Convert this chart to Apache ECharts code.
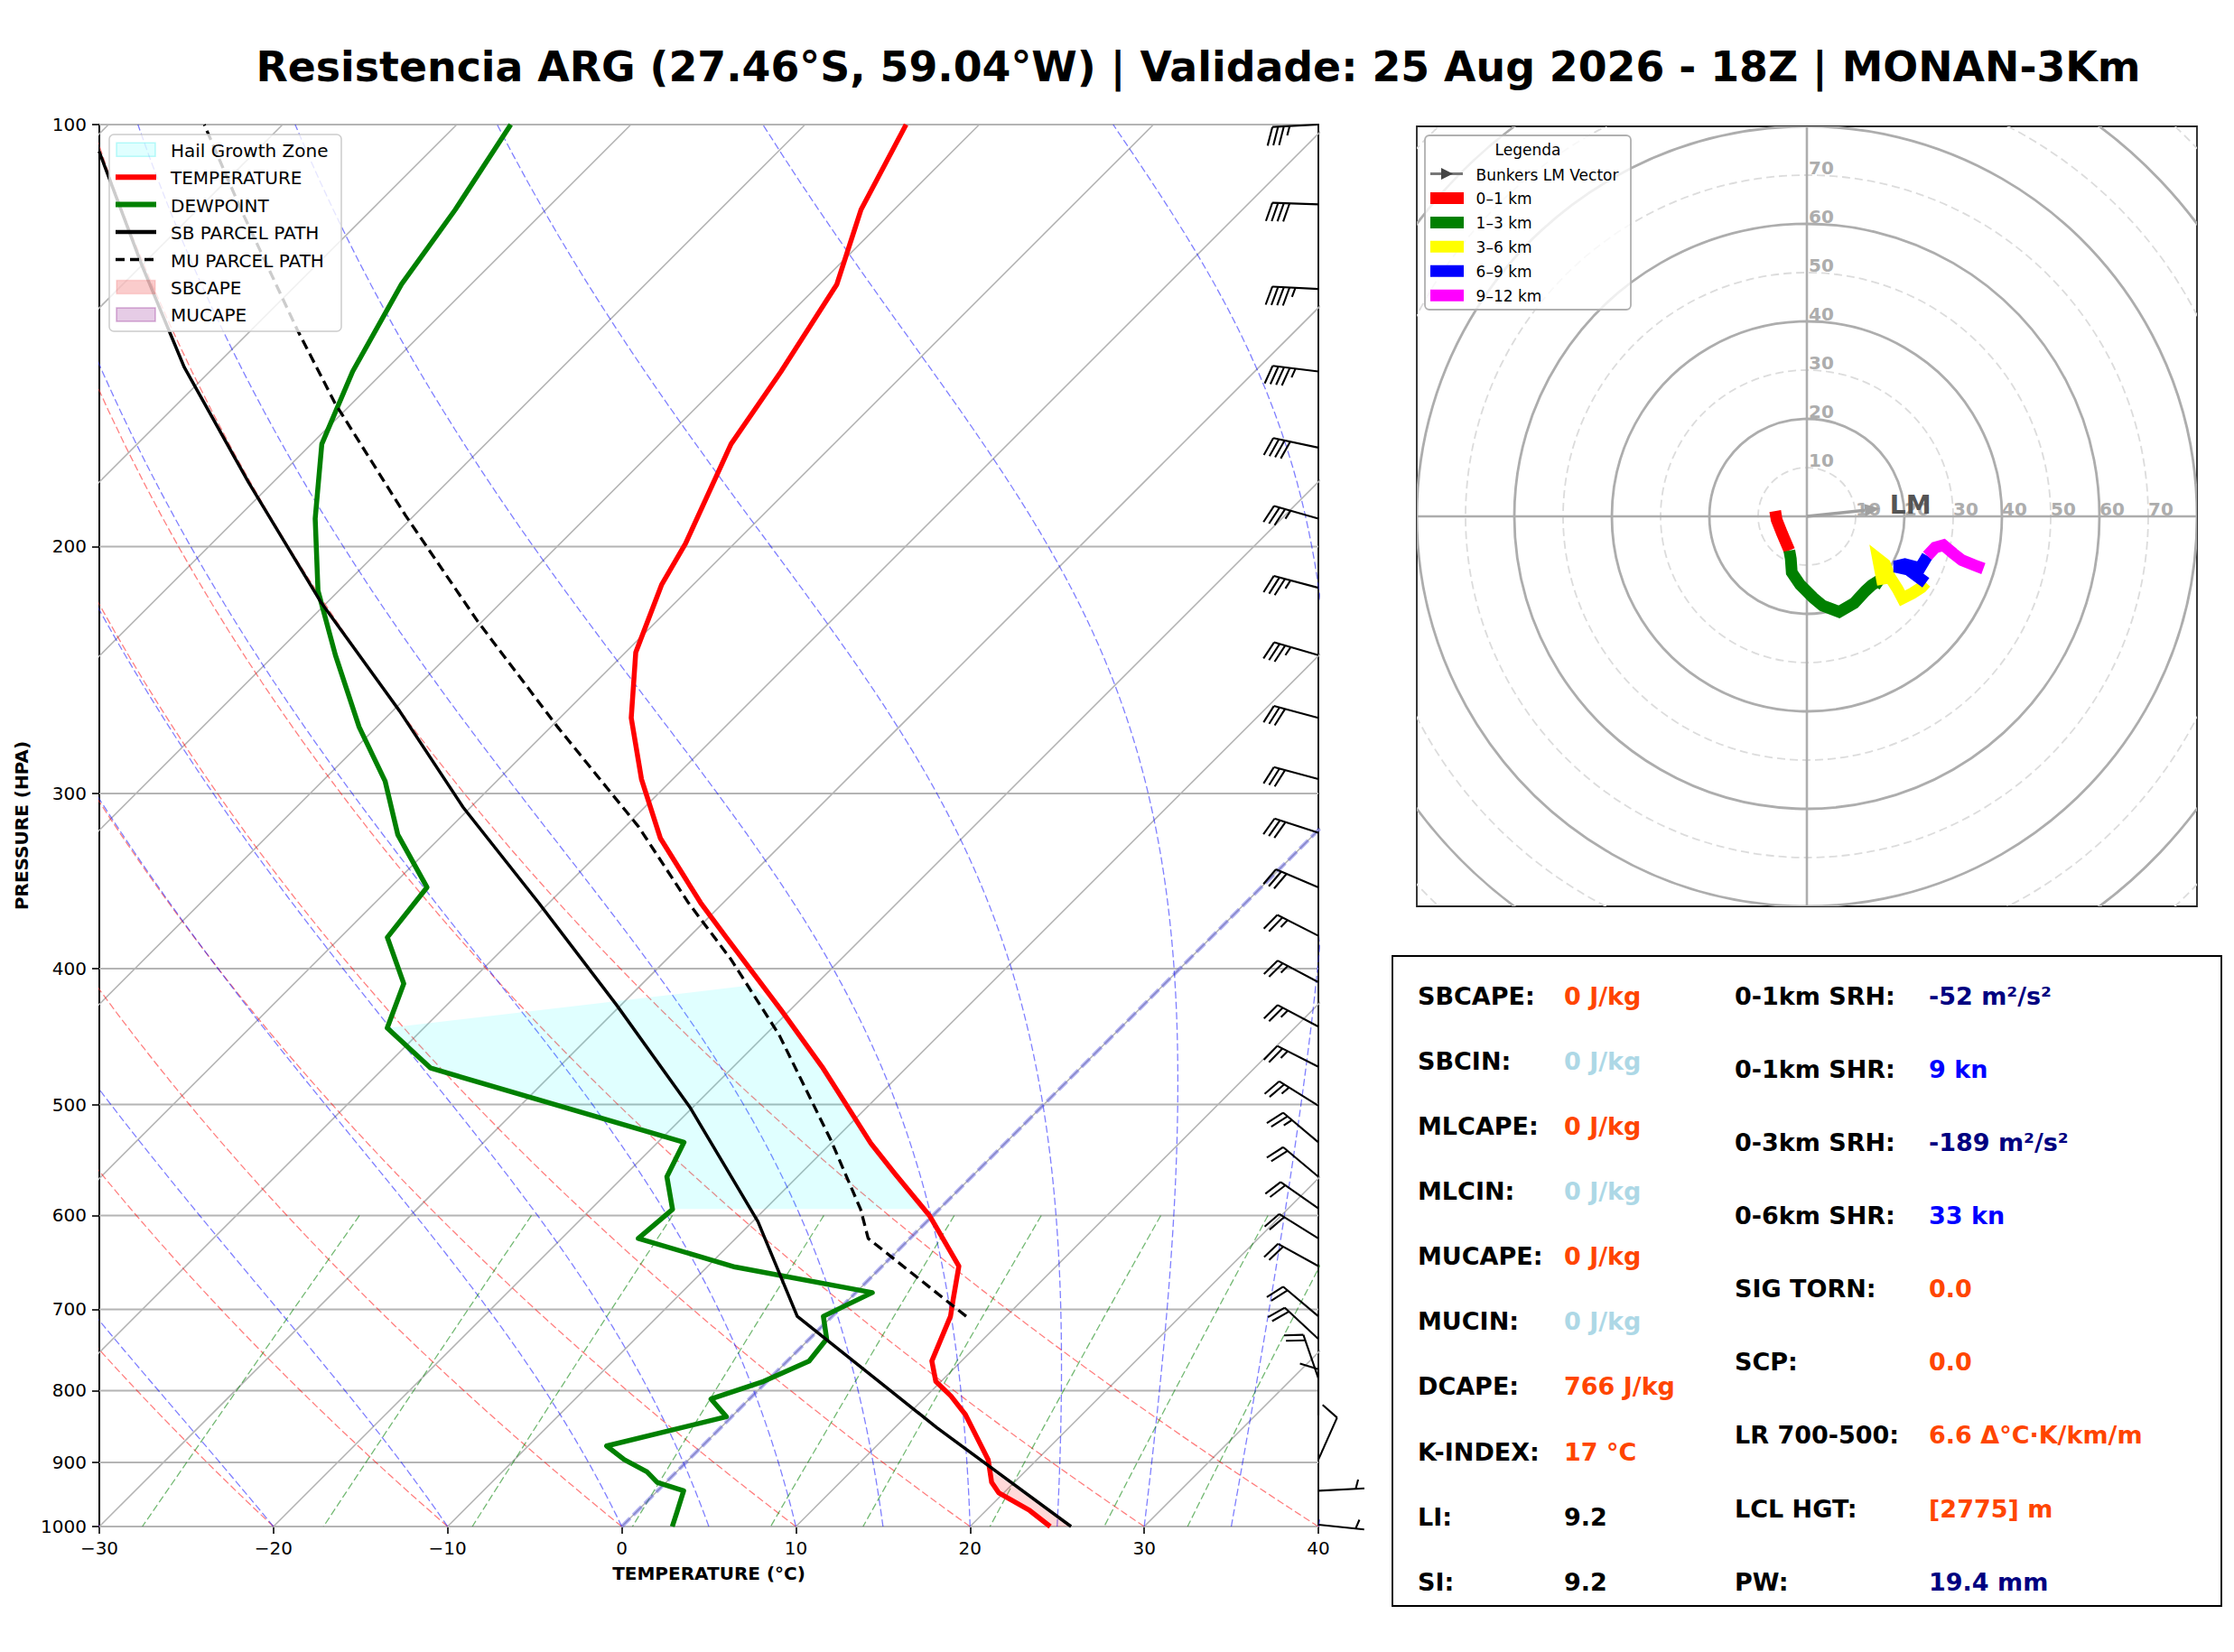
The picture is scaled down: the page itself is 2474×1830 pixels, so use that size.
<!DOCTYPE html>
<html>
<head>
<meta charset="utf-8">
<script src="https://cdn.jsdelivr.net/npm/echarts@6/dist/echarts.min.js"></script>
<style>html,body{margin:0;padding:0;background:#fff}#c{width:2474px;height:1830px}</style>
</head>
<body>
<div id="c"></div>
<script>
// ---------------- DATA ----------------
const TITLE = 'Resistencia ARG (27.46°S, 59.04°W) | Validade: 25 Aug 2026 - 18Z | MONAN-3Km';
const P_TICKS = [100, 200, 300, 400, 500, 600, 700, 800, 900, 1000];
const T_TICKS = [-30, -20, -10, 0, 10, 20, 30, 40];

const TEMP_P = [1000, 974, 946, 930, 896, 832, 807, 788, 762, 708, 689, 652, 622, 600, 560, 533, 470, 429, 379, 359, 323, 293, 265, 238, 213, 199, 169, 150, 130, 115, 100];
const TEMP_T = [24.6, 22.5, 19.7, 18.7, 17.2, 13.3, 11.4, 9.7, 8.3, 6.8, 6.0, 4.4, 1.8, -0.2, -4.6, -7.7, -14.9, -20.4, -28.0, -31.3, -37.3, -41.8, -45.9, -49.4, -51.8, -52.8, -55.9, -57.2, -59.0, -61.9, -64.2];

const DEW_P = [1000, 979, 943, 930, 914, 896, 876, 835, 811, 788, 762, 735, 708, 681, 653, 623, 594, 563, 532, 471, 441, 410, 380, 350, 321, 294, 269, 239, 215, 191, 169, 150, 130, 115, 100];
const DEW_T = [2.9, 2.4, 1.5, -0.5, -1.7, -3.7, -5.5, -0.3, -2.2, -0.2, 1.25, 1.0, -0.5, 0.95, -8.4, -15.6, -15.3, -17.5, -18.5, -37.3, -42.1, -43.7, -47.3, -47.9, -52.6, -56.4, -61.0, -66.5, -71.2, -75.5, -79.4, -81.8, -84.0, -85.2, -86.9];

const SB_P = [1000, 850, 708, 606, 560, 502, 425, 359, 307, 262, 219, 180, 149, 126, 104.5];
const SB_T = [25.8, 12.4, -2.0, -9.7, -14.1, -20.2, -30.2, -40.6, -50.4, -59.6, -70.4, -81.4, -91.7, -100.0, -109.0];

const MU_P = [708, 623, 594, 530, 446, 394, 359, 317, 269, 226, 190, 158, 140, 115, 100];
const MU_T = [7.7, -2.4, -4.5, -10.2, -19.2, -26.3, -32.0, -39.2, -49.6, -60.3, -70.5, -81.0, -87.4, -97.5, -104.5];

const HGZ_P = [593.7, 563, 532, 471, 441, 411.2, 429, 470, 533, 593.7];
const HGZ_T = [-15.3, -17.5, -18.5, -37.3, -42.1, -23.7, -20.4, -14.9, -7.7, -0.9];

const SBCAPE_P = [1000, 911, 930, 946, 974, 1000];
const SBCAPE_T = [25.8, 17.9, 18.7, 19.7, 22.5, 24.6];

const WIND_P   = [100, 114, 131, 150, 170, 191, 214, 239, 265, 293, 320, 350, 379, 409, 440, 470, 501, 532, 563, 593, 623, 652, 708, 735, 784, 833, 896, 943, 997];
const WIND_DIR = [267, 272, 273, 277, 282, 286, 285, 286, 285, 285, 288, 293, 297, 298, 298, 297, 302, 310, 310, 305, 302, 299, 310, 313, 341, 0, 24, 87, 96];
const WIND_SPD = [35, 40, 45, 45, 40, 35, 35, 35, 30, 30, 30, 30, 25, 25, 25, 25, 25, 25, 20, 20, 20, 20, 20, 20, 20, 10, 10, 5, 5];

const HODO_0_1  = [[-6.5, 1.1], [-6.2, -0.7], [-5.1, -3.5], [-3.9, -6.3], [-3.6, -7.0]];
const HODO_1_3  = [[-3.6, -7.0], [-3.3, -8.7], [-3.1, -11.5], [-1.4, -14.0], [1.3, -16.7], [3.2, -18.3], [6.6, -19.6], [9.7, -17.8], [12.0, -15.3], [13.3, -14.1], [14.6, -13.3], [15.6, -14.0]];
const HODO_3_6  = [[15.6, -14.0], [14.6, -8.7], [16.0, -9.8], [17.0, -12.4], [18.6, -14.9], [19.6, -16.8], [21.6, -15.8], [23.5, -14.6], [24.4, -13.6]];
const HODO_6_9  = [[24.4, -13.6], [20.7, -10.9], [18.0, -10.3], [20.1, -9.8], [23.2, -10.6], [24.7, -8.1]];
const HODO_9_12 = [[24.7, -8.1], [26.3, -6.4], [28.0, -5.9], [30.0, -7.6], [31.8, -9.0], [34.3, -10.0], [36.2, -10.7]];
const BUNKERS_LM = [15.0, 1.6];
const HODO_RINGS = [10, 20, 30, 40, 50, 60, 70, 80, 90, 100, 110];
const HODO_RING_LABELS = [10, 20, 30, 40, 50, 60, 70];
const HODO_LAYERS = ['0–1 km', '1–3 km', '3–6 km', '6–9 km', '9–12 km'];

const SKEW_LEGEND = ['Hail Growth Zone', 'TEMPERATURE', 'DEWPOINT', 'SB PARCEL PATH', 'MU PARCEL PATH', 'SBCAPE', 'MUCAPE'];

const STAT_L_NAMES  = ['SBCAPE:', 'SBCIN:', 'MLCAPE:', 'MLCIN:', 'MUCAPE:', 'MUCIN:', 'DCAPE:', 'K-INDEX:', 'LI:', 'SI:'];
const STAT_L_VALUES = ['0 J/kg', '0 J/kg', '0 J/kg', '0 J/kg', '0 J/kg', '0 J/kg', '766 J/kg', '17 °C', '9.2', '9.2'];
const STAT_R_NAMES  = ['0-1km SRH:', '0-1km SHR:', '0-3km SRH:', '0-6km SHR:', 'SIG TORN:', 'SCP:', 'LR 700-500:', 'LCL HGT:', 'PW:'];
const STAT_R_VALUES = ['-52 m²/s²', '9 kn', '-189 m²/s²', '33 kn', '0.0', '0.0', '6.6 Δ°C·K/km/m', '[2775] m', '19.4 mm'];

// ---------------- STYLES ----------------
const FONT = 'DejaVu Sans';
const ORANGE = '#ff4500', LBLUE = '#add8e6', NAVY = '#000080', BLUE = '#0000ff';
const STAT_L_COLORS = [ORANGE, LBLUE, ORANGE, LBLUE, ORANGE, LBLUE, ORANGE, ORANGE, '#000', '#000'];
const STAT_R_COLORS = [NAVY, BLUE, NAVY, BLUE, ORANGE, ORANGE, ORANGE, ORANGE, NAVY];
const HODO_COLORS = ['#ff0000', '#008000', '#ffff00', '#0000ff', '#ff00ff'];

const G = {left: 110, top: 138, width: 1350, height: 1553};
const H = {left: 1569, top: 140, width: 864, height: 864};
const SKEW = G.height / (G.width / 70); // deg C of x shift per decade of pressure (45 deg isotherms)

function sx(t, p) { return t + SKEW * Math.log10(1000 / p); }
function prof(P, T) { return P.map((p, i) => [sx(T[i], p), p]); }

// thermodynamic reference curves
const RD = 287.04749, CP = 1005.7, LV = 2.50084e6, EPS = 0.6219569;
function esat(Tk) { return 6.112 * Math.exp(17.67 * (Tk - 273.15) / (Tk - 29.65)); }
function moistLapse(Tk, p) {
  const es = esat(Tk), rs = EPS * es / (p - es);
  return (RD * Tk + LV * rs) / (CP + LV * LV * rs * EPS / (RD * Tk * Tk)) / p;
}
function moistAdiabat(t0) {
  let T = t0 + 273.15, p = 1000; const dp = -5; const out = [[sx(t0, 1000), 1000]];
  while (p > 100) {
    const k1 = moistLapse(T, p), k2 = moistLapse(T + k1 * dp / 2, p + dp / 2),
          k3 = moistLapse(T + k2 * dp / 2, p + dp / 2), k4 = moistLapse(T + k3 * dp, p + dp);
    T += dp * (k1 + 2 * k2 + 2 * k3 + k4) / 6; p += dp;
    out.push([sx(T - 273.15, p), p]);
  }
  return out;
}
function dryAdiabat(t0) {
  const out = []; const th = t0 + 273.15;
  for (let p = 1000; p >= 100; p -= 10) out.push([sx(th * Math.pow(p / 1000, 0.2857) - 273.15, p), p]);
  return out;
}
function mixingLine(w) {
  const out = [];
  for (let i = 0; i <= 8; i++) {
    const p = 600 + i * 50; const e = p * w / (EPS + w); const l = Math.log(e / 6.112);
    out.push([sx(243.5 * l / (17.67 - l), p), p]);
  }
  return out;
}

const series = [];
function bgLine(data, color, width, dash, z) {
  series.push({type: 'line', xAxisIndex: 0, yAxisIndex: 0, data, showSymbol: false, symbol: 'none', silent: true,
    clip: true, z: z || 1, lineStyle: {color, width, type: dash || 'solid'}, animation: false});
}
// isotherms
for (let t = -110; t <= 40; t += 10) bgLine([[sx(t, 1000), 1000], [sx(t, 100), 100]], '#b4b4b4', 1.6);
// pressure grid
P_TICKS.forEach(p => bgLine([[-30, p], [40, p]], '#b4b4b4', 2));
// dry adiabats
for (let t = -30; t <= 40; t += 10) bgLine(dryAdiabat(t), 'rgba(255,0,0,0.5)', 1.3, [8, 3.5]);
// moist adiabats
[-30, -20, -10, 0, 5, 10, 15, 20, 25, 30, 35, 40].forEach(t => bgLine(moistAdiabat(t), 'rgba(0,0,255,0.5)', 1.3, [8, 3.5]));
// mixing ratio lines
[0.0004, 0.001, 0.002, 0.004, 0.007, 0.01, 0.016, 0.024, 0.032].forEach(w => bgLine(mixingLine(w), 'rgba(0,128,0,0.55)', 1.3, [8, 3.5]));
// 0 C isotherm
bgLine([[sx(0, 1000), 1000], [sx(0, 100), 100]], 'rgba(70,70,230,0.4)', 4.2, [13, 5], 1);

function polySeries(name, P, T, fill) {
  series.push({type: 'custom', name, xAxisIndex: 0, yAxisIndex: 0, data: [[0, 500]], silent: true, z: 2, animation: false,
    renderItem: (params, api) => ({type: 'polygon', shape: {points: P.map((p, i) => api.coord([sx(T[i], p), p]))}, style: {fill}})});
}
polySeries('Hail Growth Zone', HGZ_P, HGZ_T, 'rgba(0,255,255,0.12)');
polySeries('SBCAPE', SBCAPE_P, SBCAPE_T, 'rgba(255,0,0,0.15)');

function profLine(name, data, color, width, dash) {
  series.push({type: 'line', name, xAxisIndex: 0, yAxisIndex: 0, data, showSymbol: false, symbol: 'none', clip: true, z: 4,
    lineStyle: {color, width, type: dash || 'solid', cap: 'butt', join: 'round'}, animation: false});
}
profLine('TEMPERATURE', prof(TEMP_P, TEMP_T), '#ff0000', 5.5);
profLine('DEWPOINT', prof(DEW_P, DEW_T), '#008000', 5.5);
profLine('SB PARCEL PATH', prof(SB_P, SB_T), '#000000', 3.5);
profLine('MU PARCEL PATH', prof(MU_P, MU_T), '#000000', 3.3, [11, 6]);

// wind barbs
series.push({type: 'custom', name: 'barbs', xAxisIndex: 0, yAxisIndex: 0, clip: false, z: 6, silent: true, animation: false,
  data: WIND_P.map((p, i) => [40, p, WIND_SPD[i], WIND_DIR[i]]),
  renderItem: (params, api) => {
    const o = api.coord([api.value(0), api.value(1)]);
    const spd = api.value(2), dir = api.value(3) * Math.PI / 180;
    const L = 51, sp = 0.125 * L, HH = 0.4 * L, W = 0.25 * L;
    const s = [Math.sin(dir), -Math.cos(dir)], n = [s[1], -s[0]];
    const at = (d, h) => [o[0] + s[0] * d + n[0] * (h || 0), o[1] + s[1] * d + n[1] * (h || 0)];
    let mag = Math.round(spd / 5) * 5;
    const nflag = Math.floor(mag / 50); mag -= nflag * 50;
    const nbarb = Math.floor(mag / 10); mag -= nbarb * 10;
    const half = mag >= 5;
    const ch = [];
    const st = {stroke: '#000', lineWidth: 2.1, fill: null};
    ch.push({type: 'line', shape: {x1: o[0], y1: o[1], x2: at(L)[0], y2: at(L)[1]}, style: st});
    let off = L;
    for (let i = 0; i < nflag; i++) {
      if (off !== L) off += sp / 2;
      ch.push({type: 'polygon', shape: {points: [at(off), at(off - W / 2, HH), at(off - W)]}, style: {fill: '#000', stroke: '#000', lineWidth: 1}});
      off -= W + sp;
    }
    for (let i = 0; i < nbarb; i++) {
      const a = at(off), b = at(off + W / 2, HH);
      ch.push({type: 'line', shape: {x1: a[0], y1: a[1], x2: b[0], y2: b[1]}, style: st});
      off -= sp;
    }
    if (half) {
      if (off === L) off -= 1.5 * sp;
      const a = at(off), b = at(off + W / 4, HH / 2);
      ch.push({type: 'line', shape: {x1: a[0], y1: a[1], x2: b[0], y2: b[1]}, style: st});
    }
    return {type: 'group', children: ch};
  }});

// ---------------- HODOGRAPH ----------------
series.push({type: 'custom', name: 'rings', xAxisIndex: 1, yAxisIndex: 1, data: [[0, 0]], silent: true, z: 1, animation: false,
  renderItem: (params, api) => {
    const c = api.coord([0, 0]); const cs = params.coordSys;
    const ch = HODO_RINGS.map(r => {
      const rr = api.size([r, 0])[0]; const solid = r % 20 === 0;
      return {type: 'circle', shape: {cx: c[0], cy: c[1], r: rr},
        style: {fill: null, stroke: solid ? '#adadad' : '#dcdcdc', lineWidth: solid ? 2.8 : 1.8, lineDash: solid ? null : [9, 5]}};
    });
    ch.push({type: 'line', shape: {x1: cs.x, y1: c[1], x2: cs.x + cs.width, y2: c[1]}, style: {stroke: '#adadad', lineWidth: 2.6}});
    ch.push({type: 'line', shape: {x1: c[0], y1: cs.y, x2: c[0], y2: cs.y + cs.height}, style: {stroke: '#adadad', lineWidth: 2.6}});
    return {type: 'group', children: ch, clipPath: {type: 'rect', shape: {x: cs.x, y: cs.y, width: cs.width, height: cs.height}}};
  }});
series.push({type: 'custom', name: 'ringLabels', xAxisIndex: 1, yAxisIndex: 1, data: [[0, 0]], silent: true, z: 2, animation: false,
  renderItem: (params, api) => {
    const ch = [];
    HODO_RING_LABELS.forEach(r => {
      const a = api.coord([r, 0]), b = api.coord([0, r]);
      ch.push({type: 'text', x: a[0], y: a[1] + 2, style: {text: String(r), fill: '#adadad', font: 'bold 20px ' + FONT, textAlign: 'left', textVerticalAlign: 'bottom'}});
      ch.push({type: 'text', x: b[0] + 2, y: b[1] - 8, style: {text: String(r), fill: '#adadad', font: 'bold 20px ' + FONT, textAlign: 'left', textVerticalAlign: 'middle'}});
    });
    return {type: 'group', children: ch};
  }});
[HODO_0_1, HODO_1_3, HODO_3_6, HODO_6_9, HODO_9_12].forEach((d, i) => {
  series.push({type: 'line', name: HODO_LAYERS[i], xAxisIndex: 1, yAxisIndex: 1, data: d, showSymbol: false, symbol: 'none', z: 4, animation: false,
    lineStyle: {color: HODO_COLORS[i], width: 13, cap: 'butt', join: 'miter'}});
});
series.push({type: 'custom', name: 'Bunkers LM Vector', xAxisIndex: 1, yAxisIndex: 1, data: [BUNKERS_LM], silent: true, z: 5, animation: false,
  renderItem: (params, api) => {
    const a = api.coord([0, 0]), b = api.coord([api.value(0), api.value(1)]);
    const dx = b[0] - a[0], dy = b[1] - a[1], len = Math.hypot(dx, dy), ux = dx / len, uy = dy / len;
    const hl = 17, hw = 7;
    const base = [b[0] - ux * hl, b[1] - uy * hl];
    const lab = api.coord([api.value(0) + 2, 0]);
    return {type: 'group', children: [
      {type: 'line', shape: {x1: a[0], y1: a[1], x2: base[0], y2: base[1]}, style: {stroke: '#a0a0a0', lineWidth: 3.5}},
      {type: 'polygon', shape: {points: [b, [base[0] - uy * hw, base[1] + ux * hw], [base[0] + uy * hw, base[1] - ux * hw]]}, style: {fill: '#a0a0a0'}},
      {type: 'text', x: lab[0], y: lab[1] + 1, style: {text: 'LM', fill: '#555555', font: 'bold 28px ' + FONT, textAlign: 'left', textVerticalAlign: 'bottom'}}
    ]};
  }});

// ---------------- GRAPHIC (legends, stats box) ----------------
const gfx = [];
function txt(x, y, text, font, fill, align, valign) {
  gfx.push({type: 'text', x, y, z: 101, style: {text, font, fill: fill || '#000', textAlign: align || 'left', textVerticalAlign: valign || 'middle'}});
}
// skew-T legend
gfx.push({type: 'rect', z: 100, shape: {x: 121, y: 149, width: 257, height: 218, r: 5}, style: {fill: 'rgba(255,255,255,0.8)', stroke: '#cccccc', lineWidth: 1.5}});
const SKL = [
  {k: 'patch', fill: 'rgba(0,255,255,0.12)', stroke: 'rgba(0,230,230,0.25)'},
  {k: 'line', c: '#ff0000', w: 6},
  {k: 'line', c: '#008000', w: 6},
  {k: 'line', c: '#000000', w: 4.5},
  {k: 'line', c: '#000000', w: 3.5, dash: [10, 6]},
  {k: 'patch', fill: 'rgba(230,0,0,0.2)', stroke: 'rgba(230,0,0,0.12)'},
  {k: 'patch', fill: 'rgba(128,0,128,0.2)', stroke: 'rgba(128,0,128,0.3)'}
];
SKEW_LEGEND.forEach((name, i) => {
  const y = 165.7 + i * 30.45, h = SKL[i];
  if (h.k === 'patch') gfx.push({type: 'rect', z: 101, shape: {x: 129, y: y - 7.5, width: 43, height: 15}, style: {fill: h.fill, stroke: h.stroke, lineWidth: 1.5}});
  else gfx.push({type: 'line', z: 101, shape: {x1: 128, y1: y, x2: 173, y2: y}, style: {stroke: h.c, lineWidth: h.w, lineDash: h.dash || null}});
  txt(189, y + 1, name, '20px ' + FONT);
});
// hodograph legend
gfx.push({type: 'rect', z: 100, shape: {x: 1578, y: 150, width: 228, height: 193, r: 5}, style: {fill: 'rgba(255,255,255,0.8)', stroke: '#b0b0b0', lineWidth: 1.8}});
txt(1692, 166, 'Legenda', '17px ' + FONT, '#000', 'center');
const hy0 = 192.5, hdy = 26.95;
gfx.push({type: 'line', z: 101, shape: {x1: 1584, y1: hy0, x2: 1620, y2: hy0}, style: {stroke: '#777777', lineWidth: 3}});
gfx.push({type: 'polygon', z: 102, shape: {points: [[1596, hy0 - 6.5], [1609, hy0], [1596, hy0 + 6.5]]}, style: {fill: '#444444'}});
txt(1634.6, hy0 + 1, 'Bunkers LM Vector', '17px ' + FONT);
HODO_LAYERS.forEach((name, i) => {
  const y = hy0 + (i + 1) * hdy;
  gfx.push({type: 'rect', z: 101, shape: {x: 1584, y: y - 6.5, width: 37, height: 13}, style: {fill: HODO_COLORS[i]}});
  txt(1634.6, y + 1, name, '17px ' + FONT);
});
// stats box
gfx.push({type: 'rect', z: 100, shape: {x: 1542, y: 1059, width: 918, height: 720}, style: {fill: '#fff', stroke: '#000', lineWidth: 1.8}});
STAT_L_NAMES.forEach((n, i) => {
  const y = 1103.3 + i * 72.1;
  txt(1570, y, n, 'bold 27px ' + FONT);
  txt(1732, y, STAT_L_VALUES[i], 'bold 27px ' + FONT, STAT_L_COLORS[i]);
});
STAT_R_NAMES.forEach((n, i) => {
  const y = 1103.3 + i * 81.1;
  txt(1921, y, n, 'bold 27px ' + FONT);
  txt(2136, y, STAT_R_VALUES[i], 'bold 27px ' + FONT, STAT_R_COLORS[i]);
});

const minus = v => String(v).replace('-', '\u2212');
const option = {
  animation: false,
  backgroundColor: '#ffffff',
  textStyle: {fontFamily: FONT},
  title: {text: TITLE, left: 1322, top: 46, textAlign: 'center',
    textStyle: {fontFamily: FONT, fontWeight: 'bold', fontSize: 45.8, color: '#000'}},
  grid: [
    {left: G.left, top: G.top, width: G.width, height: G.height, show: true, borderColor: '#000', borderWidth: 1.8, backgroundColor: 'rgba(0,0,0,0)'},
    {left: H.left, top: H.top, width: H.width, height: H.height, show: true, borderColor: '#222', borderWidth: 1.8, backgroundColor: 'rgba(0,0,0,0)'}
  ],
  xAxis: [
    {type: 'value', gridIndex: 0, min: -30, max: 40, interval: 10,
      axisLine: {show: true, onZero: false, lineStyle: {color: '#000', width: 1.8}},
      axisTick: {show: true, length: 8, lineStyle: {color: '#000', width: 1.6}},
      axisLabel: {formatter: minus, fontSize: 20, color: '#000', margin: 14, showMinLabel: true, showMaxLabel: true, fontFamily: FONT},
      splitLine: {show: false},
      name: 'TEMPERATURE (°C)', nameLocation: 'middle', nameGap: 42,
      nameTextStyle: {fontWeight: 'bold', fontSize: 20, color: '#000', fontFamily: FONT}},
    {type: 'value', gridIndex: 1, min: -80, max: 80, show: false}
  ],
  yAxis: [
    {type: 'log', logBase: 10, gridIndex: 0, min: 100, max: 1000, inverse: true,
      axisLine: {show: true, onZero: false, lineStyle: {color: '#000', width: 1.8}},
      axisTick: {show: true, length: 8, customValues: P_TICKS, lineStyle: {color: '#000', width: 1.6}},
      axisLabel: {customValues: P_TICKS, formatter: v => String(Math.round(v)), fontSize: 20, color: '#000', margin: 14, fontFamily: FONT},
      minorTick: {show: false}, splitLine: {show: false},
      name: 'PRESSURE (HPA)', nameLocation: 'middle', nameGap: 76,
      nameTextStyle: {fontWeight: 'bold', fontSize: 20, color: '#000', fontFamily: FONT}},
    {type: 'value', gridIndex: 1, min: -80, max: 80, show: false}
  ],
  series,
  graphic: {elements: gfx}
};
const chart = echarts.init(document.getElementById('c'), null, {renderer: 'svg', width: 2474, height: 1830});
chart.setOption(option);
</script>
</body>
</html>
